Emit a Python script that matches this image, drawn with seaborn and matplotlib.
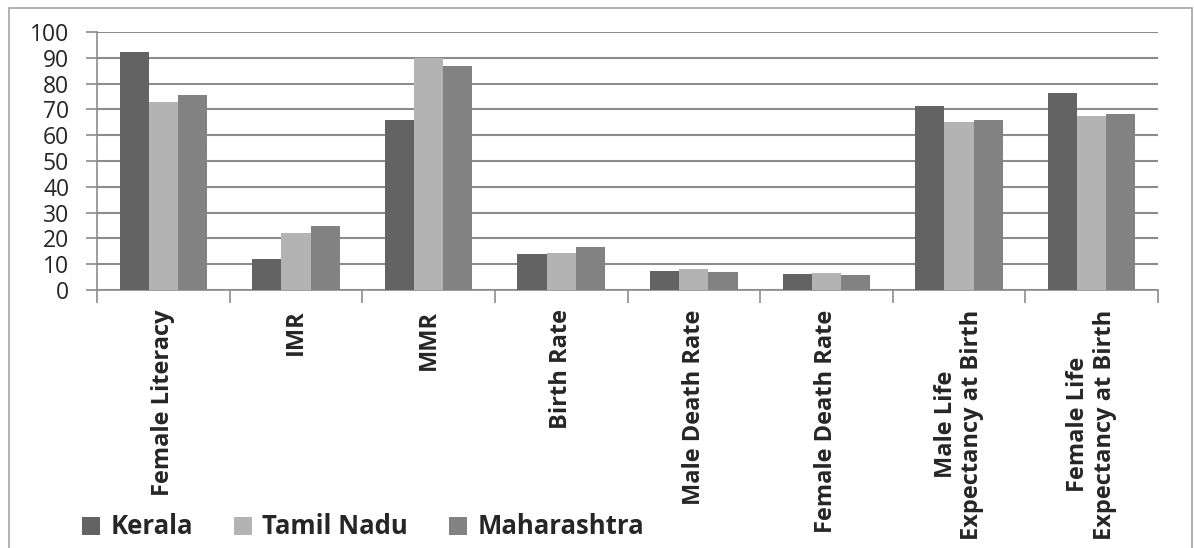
import numpy as np
import pandas as pd
import matplotlib
matplotlib.use("Agg")
import matplotlib.pyplot as plt
import seaborn as sns
from matplotlib.patches import Patch, Rectangle

# ── data ─────────────────────────────────────────────────────────────────────
categories = ["Female Literacy", "IMR", "MMR", "Birth Rate", "Male Death Rate",
              "Female Death Rate", "Male Life\nExpectancy at Birth",
              "Female Life\nExpectancy at Birth"]
states = ["Kerala", "Tamil Nadu", "Maharashtra"]
kerala      = [92.4, 12, 66, 14.1, 7.5, 6.1, 71.3, 76.2]
tamil_nadu  = [73.0, 22, 90, 14.4, 8.3, 6.5, 65.0, 67.3]
maharashtra = [75.4, 25, 87, 16.8, 6.9, 5.8, 66.0, 68.4]
colors = ["#636363", "#b3b3b3", "#828282"]

df = pd.DataFrame({
    "cat": categories * 3,
    "state": [s for s in states for _ in categories],
    "val": kerala + tamil_nadu + maharashtra,
})

sns.set_style("white")
plt.rcParams["font.family"] = ["Open Sans", "DejaVu Sans"]

W, H = 1194, 548
fig = plt.figure(figsize=(W / 100, H / 100), dpi=100)
ax = fig.add_axes([97 / W, 1 - 290 / H, (1158 - 97) / W, (290 - 32) / H])

sns.barplot(data=df, x="cat", y="val", hue="state", order=categories,
            hue_order=states, palette=colors, width=0.66, gap=0,
            edgecolor="none", ax=ax, legend=False, zorder=3)

grid_c = "#8c8c8c"
ax.set_ylim(0, 100)
ax.set_xlim(-0.5, len(categories) - 0.5)
ax.set_yticks(np.arange(0, 101, 10))
ax.yaxis.grid(True, color=grid_c, lw=1.5, zorder=0)
ax.set_axisbelow(True)
ax.tick_params(axis="y", length=8, width=1.2, color=grid_c, pad=12,
               labelsize=16.5, left=True)
ax.set_xticks(range(len(categories)))
ax.set_xticklabels(categories, rotation=90, fontsize=17, fontweight="bold",
                   va="top", ha="center", multialignment="center",
                   linespacing=1.15)
ax.tick_params(axis="x", length=0, pad=14)
ax.set_xticks(np.arange(-0.5, len(categories), 1), minor=True)
ax.tick_params(axis="x", which="minor", length=9, width=1.2, color=grid_c, bottom=True)
for s in ["top", "right"]:
    ax.spines[s].set_visible(False)
for s in ["left", "bottom"]:
    ax.spines[s].set_color(grid_c)
    ax.spines[s].set_linewidth(1.2)
ax.set_xlabel("")
ax.set_ylabel("")

handles = [Patch(facecolor=c, edgecolor="none", label=s) for c, s in zip(colors, states)]
fig.legend(handles=handles, loc="center left", bbox_to_anchor=(82 / W, 1 - 527 / H),
           ncol=3, frameon=False, handlelength=0.7, handleheight=0.7,
           handletextpad=0.4, columnspacing=1.6, borderpad=0, borderaxespad=0,
           prop={"family": "Open Sans", "weight": "bold", "size": 18.5})

# outer chart frame
fig.patches.append(Rectangle((9 / W, -0.05), (1192 - 9) / W, 1 - 8 / H + 0.05,
                             transform=fig.transFigure, fill=False,
                             edgecolor="#a6a6a6", lw=1.2))

fig.savefig("out.png", dpi=100)
